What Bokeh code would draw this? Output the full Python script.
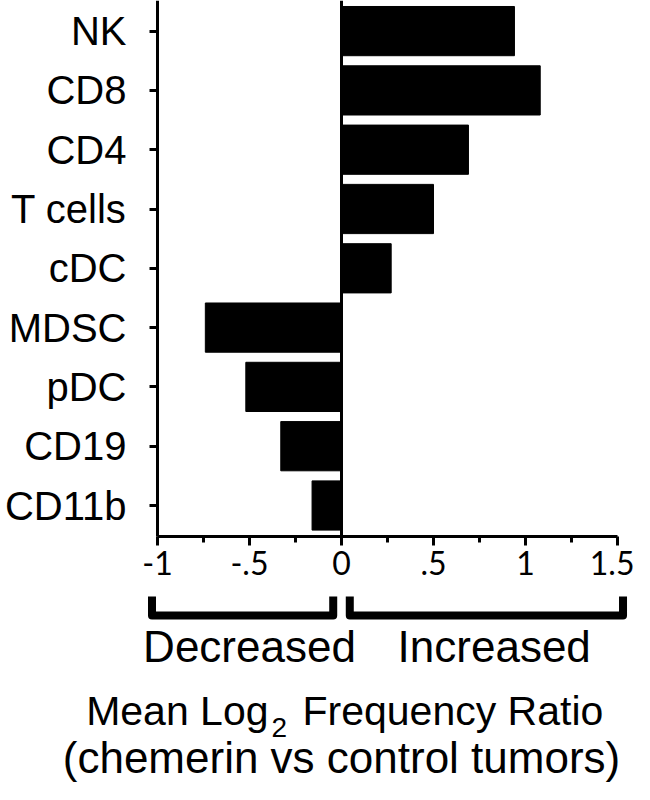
from bokeh.plotting import figure
from bokeh.models import Range1d, LinearAxis, FixedTicker, ColumnDataSource
from bokeh.core.properties import value
from bokeh.embed import file_html
from bokeh.resources import INLINE

# ---- data ----
categories = ["NK", "CD8", "CD4", "T cells", "cDC", "MDSC", "pDC", "CD19", "CD11b"]
ratios = [0.94, 1.08, 0.69, 0.50, 0.27, -0.74, -0.52, -0.33, -0.16]
x_ticks = [-1, -0.5, 0, 0.5, 1, 1.5]
x_tick_labels = ["-1", "-.5", "0", ".5", "1", "1.5"]
x_minor_ticks = [-0.75, -0.25, 0.25, 0.75, 1.25]
side_labels = ["Decreased", "Increased"]
title_line1 = ["Mean Log", "2", "Frequency Ratio"]
title_line2 = "(chemerin vs control tumors)"

# ---- layout (pixels per data unit) ----
W, H = 634, 784
PX_X = 184.0
PX_Y = 59.3
zero_px = 341.0            # x=0 position inside the canvas
top_units = 505.0 / PX_Y   # data y at canvas top (last category centred at row 505)
x_start = -zero_px / PX_X
x_end = (W - zero_px) / PX_X
y_end = top_units
y_start = top_units - H / PX_Y

def ypx(py):
    """canvas pixel row -> data y"""
    return top_units - py / PX_Y

def xpx(px):
    """canvas pixel column -> data x"""
    return (px - zero_px) / PX_X

axis_y = ypx(536)

n = len(categories)
ypos = [n - 1 - i for i in range(n)]

p = figure(width=W, height=H, x_range=Range1d(x_start, x_end), y_range=Range1d(y_start, y_end),
           x_axis_type=None, y_axis_type=None, toolbar_location=None, output_backend="svg",
           min_border=0, outline_line_color=None)
p.xgrid.visible = False
p.ygrid.visible = False

src = ColumnDataSource(dict(y=ypos, right=ratios, cat=categories))
p.hbar(y="y", right="right", left=0, height=0.83, source=src, fill_color="black", line_color="black")

# zero line
p.segment(x0=[0], y0=[axis_y], x1=[0], y1=[y_end], line_color="black", line_width=3)

# x axis
xaxis = LinearAxis(fixed_location=axis_y,
                   ticker=FixedTicker(ticks=x_ticks, minor_ticks=x_minor_ticks),
                   bounds=(x_ticks[0], x_ticks[-1]))
xaxis.major_label_overrides = {t: l for t, l in zip(x_ticks, x_tick_labels)}
xaxis.axis_line_width = 3
xaxis.major_tick_line_width = 3
xaxis.minor_tick_line_width = 3
xaxis.major_tick_in = 0
xaxis.major_tick_out = 9
xaxis.minor_tick_in = 0
xaxis.minor_tick_out = 6
xaxis.major_label_standoff = 5
xaxis.major_label_text_font = "Lato"
xaxis.major_label_text_font_size = "32px"
xaxis.major_label_text_color = "black"
p.add_layout(xaxis, "below")

# y axis
yaxis = LinearAxis(fixed_location=x_ticks[0],
                   ticker=FixedTicker(ticks=ypos, minor_ticks=[]),
                   bounds=(axis_y, y_end))
yaxis.major_label_overrides = {y: c for y, c in zip(ypos, categories)}
yaxis.axis_line_width = 3
yaxis.major_tick_line_width = 3
yaxis.major_tick_in = 0
yaxis.major_tick_out = 8
yaxis.minor_tick_out = 0
yaxis.major_label_standoff = 23
yaxis.major_label_text_font = "Liberation Sans"
yaxis.major_label_text_font_size = "40px"
yaxis.major_label_text_color = "black"
p.add_layout(yaxis, "left")

# brackets under the axis
pad_out, pad_in = 0.03, 0.045
br_top, br_bot = ypx(596), ypx(615)
left_br = (x_ticks[0] - pad_out, 0 - pad_in)
right_br = (0 + pad_in, x_ticks[-1] + pad_out)
p.multi_line(xs=[[left_br[0], left_br[0], left_br[1], left_br[1]],
                 [right_br[0], right_br[0], right_br[1], right_br[1]]],
             ys=[[br_top, br_bot, br_bot, br_top]] * 2,
             line_color="black", line_width=8, line_join="round")

font = value("Liberation Sans")
# (y values below are the rows of the cap-height middle of each text)
p.text(x=[-0.5, 0.83], y=[ypx(646)] * 2, text=side_labels, text_font=font,
       text_font_size=value("44px"), text_align="center", text_baseline="alphabetic", text_color="black")

# title with subscript
p.text(x=[xpx(268)], y=[ypx(710)], text=[title_line1[0]], text_font=font, text_font_size=value("41px"),
       text_align="right", text_baseline="alphabetic", text_color="black")
p.text(x=[xpx(271)], y=[ypx(727)], text=[title_line1[1]], text_font=font, text_font_size=value("28px"),
       text_align="left", text_baseline="alphabetic", text_color="black")
p.text(x=[xpx(302)], y=[ypx(710)], text=[title_line1[2]], text_font=font, text_font_size=value("41px"),
       text_align="left", text_baseline="alphabetic", text_color="black")
p.text(x=[xpx(341)], y=[ypx(757)], text=[title_line2], text_font=font, text_font_size=value("44px"),
       text_align="center", text_baseline="alphabetic", text_color="black")

open("out.html", "w").write(file_html(p, INLINE))
